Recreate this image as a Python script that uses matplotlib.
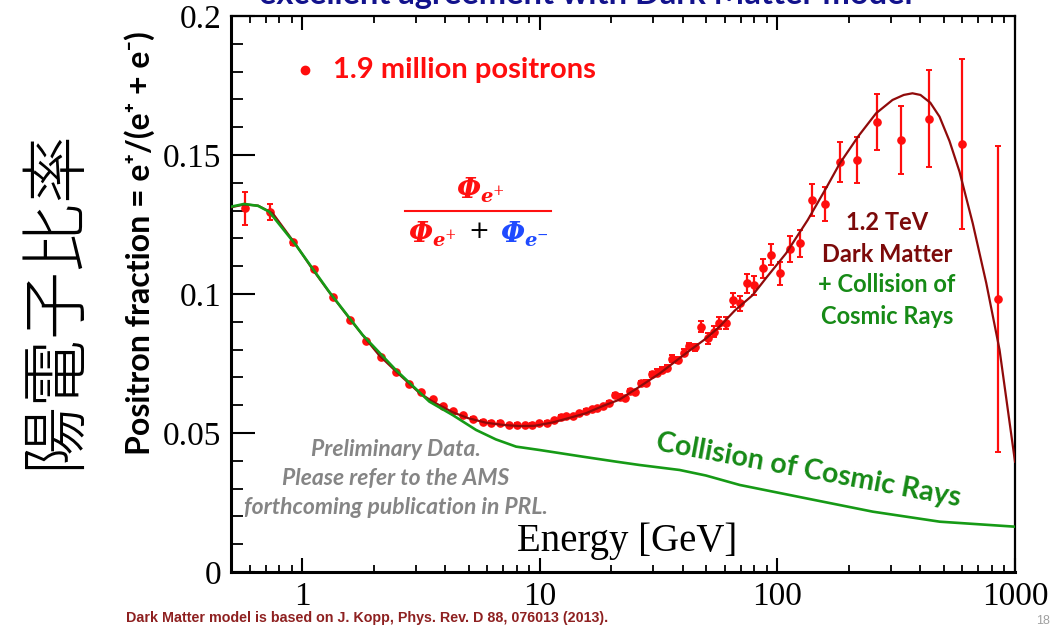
import matplotlib
matplotlib.use('Agg')
import matplotlib.pyplot as plt
from matplotlib.lines import Line2D
from matplotlib.ticker import FixedLocator, LogLocator, NullFormatter, MultipleLocator

plt.rcParams['mathtext.fontset'] = 'stix'

# AMS positron fraction measurements
energy = [0.574, 0.733, 0.914, 1.117, 1.34, 1.59, 1.85, 2.15, 2.47, 2.82,
          3.16, 3.53, 3.89, 4.31, 4.75, 5.24, 5.73, 6.23, 6.78, 7.38,
          7.97, 8.61, 9.25, 9.93, 10.66, 11.45, 12.2, 12.9, 13.8, 14.6,
          15.6, 16.6, 17.4, 18.4, 19.5, 20.6, 21.7, 22.9, 23.9, 25.2,
          26.6, 28.0, 29.5, 31.0, 32.6, 34.4, 36.0, 38.1, 40.2, 42.6,
          45.1, 47.8, 50.8, 53.9, 56.9, 60.7, 64.7, 69.6, 74.4, 79.9,
          86.6, 94.0, 102.6, 113, 124.5, 139.9, 158.6, 183.5, 215.7, 263,
          330, 434, 597, 847]
fraction = [0.1308, 0.1294, 0.1186, 0.1089, 0.0990, 0.0908, 0.0831, 0.0775, 0.0721, 0.0677,
            0.0646, 0.0621, 0.0597, 0.0578, 0.0564, 0.0551, 0.0540, 0.0537, 0.0537, 0.0528,
            0.0530, 0.0528, 0.0530, 0.0535, 0.0537, 0.0547, 0.0559, 0.0561, 0.0561, 0.0571,
            0.0580, 0.0585, 0.0590, 0.0597, 0.0609, 0.0636, 0.0631, 0.0626, 0.0652, 0.0647,
            0.0679, 0.0681, 0.0711, 0.0717, 0.0727, 0.0734, 0.0767, 0.0763, 0.0789, 0.0813,
            0.0808, 0.0882, 0.0841, 0.0864, 0.0897, 0.0897, 0.0978, 0.0967, 0.1038, 0.1032,
            0.1092, 0.1141, 0.1074, 0.1162, 0.1182, 0.1338, 0.1324, 0.1474, 0.1482, 0.1620,
            0.1554, 0.1630, 0.1540, 0.0981]
fraction_err = [0.006, 0.0028, 0.0008, 0.0007, 0.0006, 0.0006, 0.0005, 0.0005, 0.0005, 0.0005,
                0.0005, 0.0005, 0.0005, 0.0005, 0.0005, 0.0005, 0.0005, 0.0005, 0.0005, 0.0005,
                0.0005, 0.0005, 0.0005, 0.0005, 0.0005, 0.0005, 0.0005, 0.0005, 0.0005, 0.0005,
                0.0005, 0.0005, 0.0005, 0.0005, 0.0005, 0.0008, 0.0008, 0.0008, 0.0008, 0.0008,
                0.0008, 0.0008, 0.0008, 0.0012, 0.0012, 0.0012, 0.0012, 0.0012, 0.0012, 0.0012,
                0.0012, 0.002, 0.002, 0.002, 0.0022, 0.0022, 0.0026, 0.0027, 0.0034, 0.0034,
                0.0035, 0.0038, 0.0041, 0.0047, 0.0048, 0.0057, 0.0062, 0.0071, 0.0082, 0.0101,
                0.0124, 0.0174, 0.0305, 0.055]

# 1.2 TeV dark matter + cosmic ray collisions
dm_energy = [0.5, 0.57, 0.65, 0.75, 0.94, 1.1, 1.3, 1.6, 1.8, 2.1,
             2.5, 3.1, 3.5, 4.28, 5.0, 5.93, 7.0, 8.2, 9.5, 11.3,
             13.0, 15.6, 18.5, 21.6, 26.3, 32, 41.2, 50, 56.9, 66,
             78.6, 90, 108.6, 134, 160, 183, 220, 260, 305, 340,
             370, 400, 440, 481, 530, 584, 664, 757, 861, 1000]
dm_fraction = [0.1312, 0.1322, 0.1318, 0.1290, 0.1176, 0.1090, 0.1005, 0.0905, 0.0850, 0.0780,
               0.0718, 0.0645, 0.0615, 0.0575, 0.0553, 0.0537, 0.0529, 0.0525, 0.0526, 0.0538,
               0.0552, 0.0571, 0.0598, 0.0620, 0.0667, 0.0715, 0.0787, 0.0840, 0.0882, 0.0940,
               0.0996, 0.1060, 0.1146, 0.1266, 0.1380, 0.1470, 0.1570, 0.1650, 0.1698, 0.1716,
               0.1722, 0.1716, 0.1688, 0.1638, 0.1550, 0.1440, 0.1254, 0.1039, 0.0799, 0.0397]

# cosmic ray collisions only
cr_energy = [0.5, 0.568, 0.65, 0.724, 0.938, 1.295, 1.79, 2.47, 3.42, 4.28,
             5.38, 6.52, 7.93, 9.93, 15.1, 20.9, 26.2, 38.7, 50, 69.4,
             132, 252, 482, 1000]
cr_fraction = [0.1314, 0.1324, 0.1317, 0.1296, 0.1176, 0.1008, 0.0853, 0.0727, 0.0613, 0.0565,
               0.0511, 0.0477, 0.0451, 0.0439, 0.0415, 0.0397, 0.0385, 0.0367, 0.0347, 0.0313,
               0.0265, 0.0217, 0.0181, 0.0163]

y_ticks = [0, 0.05, 0.1, 0.15, 0.2]
y_ticklabels = ['0', '0.05', '0.1', '0.15', '0.2']
x_ticks = [1, 10, 100, 1000]
x_ticklabels = ['1', '10', '100', '1000']

W, H = 1055, 630


def fx(px):
    return px / W


def fy(py):
    return 1 - py / H


fig = plt.figure(figsize=(W / 100, H / 100), dpi=100)
ax = fig.add_axes([fx(231), fy(572), (1015 - 231) / W, (572 - 16) / H])

ax.errorbar(energy, fraction, yerr=fraction_err, fmt='o', color='#ff0d0d',
            markersize=5.2, elinewidth=1.6, capsize=2.2, capthick=1.4, zorder=2)
ax.plot(cr_energy, cr_fraction, color='#169a16', linewidth=1.9, zorder=4)
ax.plot(dm_energy, dm_fraction, color='#900a0a', linewidth=1.6, zorder=3)

ax.set_xscale('log')
ax.set_xlim(0.5, 1000)
ax.set_ylim(0, 0.2)

ax.xaxis.set_major_locator(FixedLocator(x_ticks))
ax.set_xticklabels(x_ticklabels)
ax.xaxis.set_minor_locator(LogLocator(base=10, subs=(2, 3, 4, 5, 6, 7, 8, 9), numticks=20))
ax.xaxis.set_minor_formatter(NullFormatter())
ax.yaxis.set_major_locator(FixedLocator(y_ticks))
ax.set_yticklabels(y_ticklabels)
ax.yaxis.set_minor_locator(MultipleLocator(0.01))

ax.tick_params(axis='x', which='major', direction='in', length=10, width=1.5,
               top=True, bottom=True, pad=7)
ax.tick_params(axis='x', which='minor', direction='in', length=5, width=1.3,
               top=True, bottom=True)
ax.tick_params(axis='y', which='major', direction='in', length=17, width=1.5,
               left=True, right=False, pad=7)
ax.tick_params(axis='y', which='minor', direction='in', length=8.5, width=1.3,
               left=True, right=False)
for lab in ax.get_xticklabels() + ax.get_yticklabels():
    lab.set_fontfamily('Liberation Serif')
    lab.set_fontsize(24)

for side in ['left', 'bottom']:
    ax.spines[side].set_linewidth(2.2)
for side in ['top', 'right']:
    ax.spines[side].set_linewidth(1.6)

# axis labels
fig.text(fx(627), fy(541), 'Energy [GeV]', family='Liberation Serif', fontsize=28,
         ha='center', va='center')
fig.text(fx(140), fy(243), 'Positron fraction = e\u207a/(e\u207a + e\u207b)',
         family=['Lato', 'DejaVu Sans'], fontweight='bold', fontsize=23,
         rotation=90, ha='center', va='center')
fig.text(fx(55), fy(299), '陽電子比率', family=['Noto Sans CJK JP', 'DejaVu Sans'],
         fontweight='light', fontsize=49, rotation=90, ha='center', va='center')

# title line running off the top
fig.text(fx(586), fy(4), 'excellent agreement with Dark Matter model',
         family='Lato', fontweight='bold', fontsize=23.5, color='#12128c',
         ha='center', va='baseline')

# data marker key
fig.add_artist(Line2D([fx(305)], [fy(70)], marker='o', color='#ff0d0d', markersize=6))
fig.text(fx(333), fy(70), '1.9 million positrons', family='Lato', fontweight='bold',
         fontsize=21, color='#ff0d0d', ha='left', va='center')

# positron fraction formula
red_c = '#ff1010'
phi_plus = r'$\mathbfit{\Phi}_{\mathbfit{e}^{+}}$'
phi_minus = r'$\mathbfit{\Phi}_{\mathbfit{e}^{-}}$'
fig.text(fx(480), fy(190), phi_plus, fontsize=20, math_fontfamily='dejavuserif',
         color=red_c, ha='center', va='center')
fig.add_artist(Line2D([fx(405), fx(551)], [fy(211), fy(211)], color=red_c, linewidth=1.5))
fig.text(fx(432), fy(234), phi_plus, fontsize=20, math_fontfamily='dejavuserif',
         color=red_c, ha='center', va='center')
fig.text(fx(479), fy(231), '+', family='DejaVu Serif', fontsize=18,
         color='black', ha='center', va='center')
fig.text(fx(524), fy(234), phi_minus, fontsize=20, math_fontfamily='dejavuserif',
         color='#1f4bff', ha='center', va='center')

# model annotation
dm_c = '#7c0a0a'
gr_c = '#168a16'
for txt, yy, c in [('1.2 TeV', 222, dm_c), ('Dark Matter', 254, dm_c),
                   ('+ Collision of', 285, gr_c), ('Cosmic Rays', 316, gr_c)]:
    fig.text(fx(887), fy(yy), txt, family='Lato', fontweight='bold', fontsize=17,
             color=c, ha='center', va='center')

fig.text(fx(808), fy(470), 'Collision of Cosmic Rays', family='Lato', fontweight='bold',
         fontsize=20.5, color=gr_c, rotation=-10.5, rotation_mode='anchor',
         ha='center', va='center')

# preliminary note
for txt, yy in [('Preliminary Data.', 450), ('Please refer to the AMS', 479),
                ('forthcoming publication in PRL.', 508)]:
    fig.text(fx(396), fy(yy), txt, family='Lato', fontweight='bold', fontstyle='italic',
             fontsize=16.5, color='#858585', ha='center', va='center')

fig.text(fx(126), fy(618), 'Dark Matter model is based on J. Kopp, Phys. Rev. D 88, 076013 (2013).',
         family='Liberation Sans', fontweight='bold', fontsize=10.3, color='#8e2020',
         ha='left', va='center')
fig.text(fx(1043), fy(621), '18', family='Liberation Sans', fontsize=9, color='#a0a0a0',
         ha='center', va='center')

fig.savefig('out.png', dpi=100)
